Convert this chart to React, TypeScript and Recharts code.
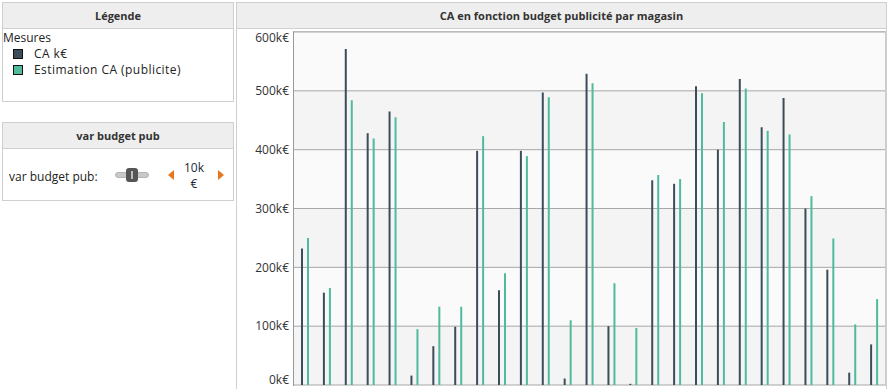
import { BarChart, Bar, XAxis, YAxis, CartesianGrid } from "recharts";

// magasins (27) and values in k€
const magasins = [
  "M01", "M02", "M03", "M04", "M05", "M06", "M07", "M08", "M09",
  "M10", "M11", "M12", "M13", "M14", "M15", "M16", "M17", "M18",
  "M19", "M20", "M21", "M22", "M23", "M24", "M25", "M26", "M27",
];
const caK = [
  232, 157, 571, 428, 465, 16, 66, 99, 398,
  161, 398, 497, 11, 529, 100, 2, 348, 342,
  508, 400, 520, 438, 488, 300, 196, 21, 69,
];
const estimationCa = [
  250, 165, 484, 419, 455, 95, 133, 133, 423,
  190, 389, 489, 110, 513, 173, 97, 357, 350,
  496, 447, 504, 432, 426, 321, 249, 103, 146,
];
const yTicks = [0, 100, 200, 300, 400, 500, 600];

const DARK = "#3b4d5a";
const GREEN = "#4fba9d";
const FONT = "'Open Sans', 'DejaVu Sans', sans-serif";

const data = magasins.map((m, i) => ({ magasin: m, ca: caK[i], estim: estimationCa[i] }));

const header: React.CSSProperties = {
  height: 25,
  background: "#eeeeee",
  borderBottom: "1px solid #cfcfcf",
  fontWeight: "bold",
  fontSize: 11,
  textAlign: "center",
  lineHeight: "25px",
  color: "#333",
};

// y tick: first and last labels are pushed inside the plot
const YTick = ({ x, y, payload }: any) => {
  const shift = payload.value === 0 ? -5 : payload.value === 600 ? 6 : 0;
  return (
    <text x={x} y={y + shift} dy="0.355em" textAnchor="end" fontSize={12} fill="#333" fontFamily={FONT}>
      {`${payload.value}k€`}
    </text>
  );
};

export default function App() {
  return (
    <div
      style={{
        position: "absolute",
        left: 0,
        top: 0,
        width: 888,
        height: 389,
        background: "#fff",
        fontFamily: FONT,
        color: "#222",
        overflow: "hidden",
      }}
    >
      {/* LEGENDE */}
      <div style={{ position: "absolute", left: 2, top: 2, width: 232, height: 100, border: "1px solid #cfcfcf", boxSizing: "border-box" }}>
        <div style={header}>Légende</div>
        <div style={{ fontSize: 12, position: "absolute", left: 0, top: 27, lineHeight: "16px" }}>
          <div>Mesures</div>
          {[
            { label: "CA k€", color: DARK },
            { label: "Estimation CA (publicite)", color: GREEN },
          ].map((it) => (
            <div key={it.label} style={{ display: "flex", alignItems: "center", marginLeft: 10, fontSize: 12, letterSpacing: 0.45, height: 16, lineHeight: "16px" }}>
              <span style={{ width: 8, height: 8, background: it.color, border: "1px solid #111", display: "inline-block", marginRight: 11 }} />
              <span>{it.label}</span>
            </div>
          ))}
        </div>
      </div>

      {/* VAR BUDGET PUB */}
      <div style={{ position: "absolute", left: 2, top: 122, width: 232, height: 79, border: "1px solid #cfcfcf", boxSizing: "border-box" }}>
        <div style={header}>var budget pub</div>
        <div style={{ position: "absolute", left: 6, top: 45, fontSize: 12 }}>var budget pub:</div>
        <div style={{ position: "absolute", left: 112, top: 49, width: 34, height: 6, background: "#c8c8c8", borderRadius: 3, border: "1px solid #b5b5b5", boxSizing: "border-box" }} />
        <div style={{ position: "absolute", left: 123, top: 45, width: 12, height: 14, background: "#555", borderRadius: 3 }}>
          <div style={{ position: "absolute", left: 5, top: 3, width: 2, height: 8, background: "#bbb" }} />
        </div>
        <div style={{ position: "absolute", left: 165, top: 47, width: 0, height: 0, borderTop: "5px solid transparent", borderBottom: "5px solid transparent", borderRight: "6px solid #e8761c" }} />
        <div style={{ position: "absolute", left: 176, top: 37, width: 30, textAlign: "center", fontSize: 12, lineHeight: "16px", color: "#1b2a3a" }}>
          10k
          <br />€
        </div>
        <div style={{ position: "absolute", left: 215, top: 47, width: 0, height: 0, borderTop: "5px solid transparent", borderBottom: "5px solid transparent", borderLeft: "6px solid #e8761c" }} />
      </div>

      {/* CHART */}
      <div style={{ position: "absolute", left: 236, top: 2, width: 651, height: 390, border: "1px solid #cfcfcf", boxSizing: "border-box" }}>
        <div style={header}>CA en fonction budget publicité par magasin</div>
      </div>
      <div style={{ position: "absolute", left: 237, top: 27 }}>
        <BarChart
          width={651}
          height={362}
          data={data}
          margin={{ top: 5, right: 3, bottom: 4, left: 0 }}
          barGap={4}
          barSize={2}
        >
          <CartesianGrid
            vertical={false}
            stroke="#a8a8a8"
            strokeWidth={1}
            horizontalFill={["#fafafa", "#f4f4f4"]}
            fillOpacity={1}
          />
          <XAxis dataKey="magasin" hide />
          <YAxis
            domain={[0, 600]}
            ticks={yTicks}
            interval={0}
            width={57}
            tickLine={false}
            axisLine={false}
            tickSize={0}
            tickMargin={5}
            tick={<YTick />}
          />
          <Bar dataKey="ca" fill={DARK} isAnimationActive={false} />
          <Bar dataKey="estim" fill={GREEN} isAnimationActive={false} />
        </BarChart>
      </div>
      <div style={{ position: "absolute", left: 293, top: 31, width: 593, height: 355, borderLeft: "1px solid #999", borderTop: "1px solid #bbb", borderRight: "1px solid #ccc", boxSizing: "border-box", pointerEvents: "none" }} />
    </div>
  );
}
